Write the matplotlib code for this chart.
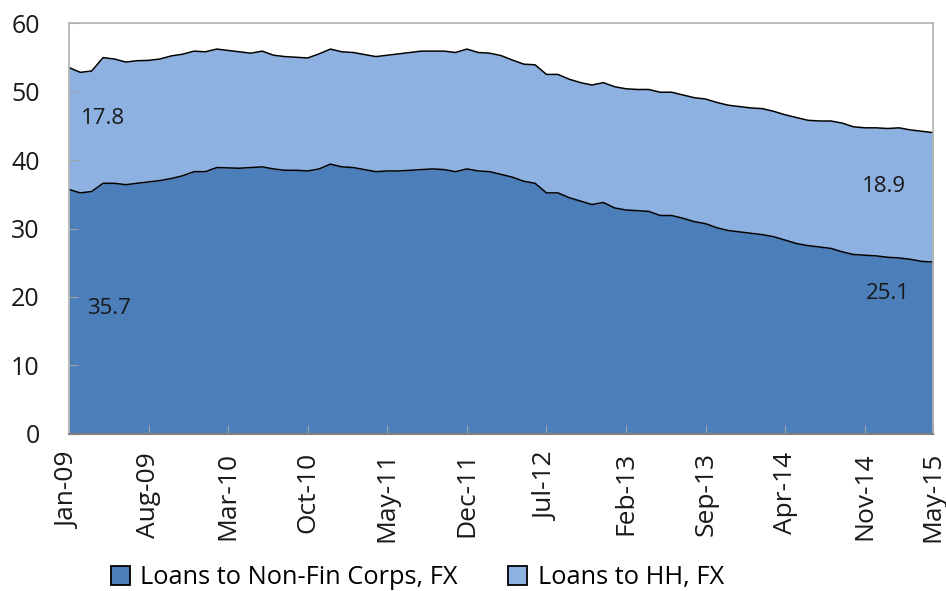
import matplotlib
matplotlib.use("Agg")
import matplotlib.pyplot as plt
from matplotlib.patches import Patch
import numpy as np

plt.rcParams['font.family'] = ['Open Sans', 'DejaVu Sans']

# Monthly data, Jan-09 .. May-15 (77 months)
nfc_fx = [35.7, 35.2, 35.4, 36.6, 36.6, 36.4, 36.6, 36.8, 37.0, 37.3,
          37.7, 38.3, 38.3, 38.9, 38.85, 38.8, 38.9, 39.0, 38.7, 38.5,
          38.5, 38.4, 38.7, 39.4, 39.0, 38.9, 38.6, 38.3, 38.4, 38.4,
          38.5, 38.6, 38.7, 38.6, 38.3, 38.7, 38.4, 38.3, 37.9, 37.5,
          36.9, 36.6, 35.2, 35.2, 34.5, 34.0, 33.5, 33.8, 33.0, 32.7,
          32.6, 32.5, 31.9, 31.9, 31.5, 31.0, 30.7, 30.1, 29.7, 29.5,
          29.3, 29.1, 28.8, 28.3, 27.8, 27.5, 27.3, 27.1, 26.6, 26.2,
          26.1, 26.0, 25.8, 25.7, 25.5, 25.2, 25.1]
hh_fx = [17.8, 17.6, 17.6, 18.35, 18.15, 17.9, 17.9, 17.75, 17.75, 17.9,
         17.75, 17.6, 17.5, 17.3, 17.15, 17.0, 16.7, 16.9, 16.6, 16.6,
         16.5, 16.5, 16.8, 16.8, 16.8, 16.8, 16.8, 16.8, 16.9, 17.1,
         17.2, 17.3, 17.2, 17.3, 17.4, 17.5, 17.3, 17.3, 17.35, 17.1,
         17.1, 17.3, 17.3, 17.3, 17.3, 17.3, 17.45, 17.5, 17.7, 17.7,
         17.7, 17.8, 18.0, 18.0, 18.0, 18.1, 18.2, 18.3, 18.3, 18.3,
         18.3, 18.4, 18.3, 18.3, 18.4, 18.3, 18.4, 18.6, 18.8, 18.65,
         18.6, 18.7, 18.8, 19.0, 18.9, 19.0, 18.9]
tick_months = [0, 7, 14, 21, 28, 35, 42, 49, 56, 63, 70, 76]
tick_labels = ["Jan-09", "Aug-09", "Mar-10", "Oct-10", "May-11", "Dec-11",
               "Jul-12", "Feb-13", "Sep-13", "Apr-14", "Nov-14", "May-15"]
series_names = ["Loans to Non-Fin Corps, FX", "Loans to HH, FX"]

c_dark = "#4C7EBA"
c_light = "#8DB2E1"
txt = "#1a1a1a"

x = np.arange(len(nfc_fx))
nfc = np.array(nfc_fx)
tot = nfc + np.array(hh_fx)

fig = plt.figure(figsize=(9.46, 5.91), dpi=100)
ax = fig.add_axes([0.0729, 0.2657, 0.9134, 0.6953])

ax.fill_between(x, 0, nfc, color=c_dark, linewidth=0)
ax.fill_between(x, nfc, tot, color=c_light, linewidth=0)
ax.plot(x, nfc, color="black", lw=1.1)
ax.plot(x, tot, color="black", lw=1.1)

ax.set_xlim(0, len(x) - 1)
ax.set_ylim(0, 60)
ax.set_yticks(range(0, 61, 10))
ax.set_xticks(tick_months)
ax.set_xticklabels(tick_labels, rotation=90, fontsize=19, color=txt)
for lab in ax.get_yticklabels():
    lab.set_fontsize(18)
    lab.set_color(txt)
ax.tick_params(axis='x', direction='in', length=6.5, color="#A0A0A0", pad=13)
ax.tick_params(axis='y', direction='in', length=6.5, color="#A0A0A0", pad=21)

for side in ["left", "top", "right"]:
    ax.spines[side].set_color("#B0B0B0")
    ax.spines[side].set_linewidth(1.2)
ax.spines["bottom"].set_color("#808080")
ax.spines["bottom"].set_linewidth(1.5)

# data labels
ax.text(1.06, 46.0, f"{hh_fx[0]:.1f}", fontsize=16, color=txt, va="center", ha="left")
ax.text(1.58, 18.3, f"{nfc_fx[0]:.1f}", fontsize=16, color=txt, va="center", ha="left")
ax.text(71.7, 36.2, f"{hh_fx[-1]:.1f}", fontsize=16, color=txt, va="center", ha="center")
ax.text(72.0, 20.5, f"{nfc_fx[-1]:.1f}", fontsize=16, color=txt, va="center", ha="center")

handles = [Patch(facecolor=c_dark, edgecolor="black", lw=1.3),
           Patch(facecolor=c_light, edgecolor="black", lw=1.3)]
fig.legend(handles, series_names, loc="center", bbox_to_anchor=(0.441, 0.022),
           ncol=2, frameon=False, fontsize=18.3, handlelength=0.75, handleheight=0.75,
           handletextpad=0.4, columnspacing=2.0, borderaxespad=0, borderpad=0)

fig.savefig("out.png", dpi=100)
